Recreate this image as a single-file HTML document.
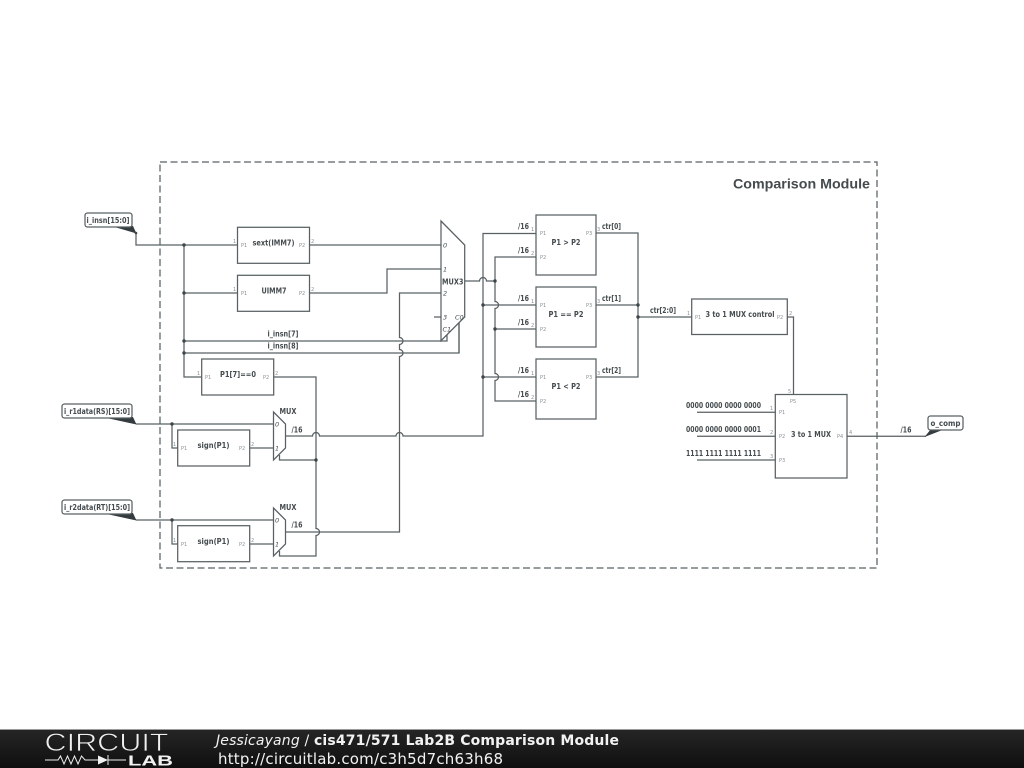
<!DOCTYPE html>
<html><head><meta charset="utf-8"><style>
html,body{margin:0;padding:0;background:#fff;width:1024px;height:768px;overflow:hidden}
svg{display:block}
text{font-family:"DejaVu Sans","Liberation Sans",sans-serif;fill:#454b4e}
.w{fill:none;stroke:#596063;stroke-width:1.25}
.b{fill:#fff;stroke:#596063;stroke-width:1.25}
.l{font-size:7.5px;font-weight:bold}
.p{font-size:5px;fill:#8a8f91}
.n{font-size:5px;fill:#8a8f91}
.m{font-size:6.500px;font-style:italic}
.f{fill:#fff;stroke:#596063;stroke-width:1.25}
.t{fill:#343c40;stroke:none}
.d{fill:#3d4549;stroke:none}
#dg{filter:blur(.3px)}
</style></head><body>
<svg width="1024" height="768" viewBox="0 0 1024 768" xmlns="http://www.w3.org/2000/svg">
<defs><linearGradient id="g" x1="0" y1="0" x2="0" y2="1"><stop offset="0" stop-color="#262626"/><stop offset="1" stop-color="#0f0f0f"/></linearGradient></defs>
<rect width="1024" height="768" fill="#fff"/>
<g id="dg">
<rect x="160" y="162" width="717" height="406" fill="none" stroke="#596063" stroke-width="1.25" stroke-dasharray="7 3.5"/>
<text x="870" y="188.500" text-anchor="end" textLength="137" lengthAdjust="spacingAndGlyphs" style="font-family:'Liberation Sans',sans-serif;font-size:14.200px;font-weight:bold">Comparison Module</text>

<!-- wires -->
<path class="w" d="M136 233V245H237.500M184 245V377H201.700M184 293H237.500"/>
<path class="w" d="M184 341H441M184 353H459V323"/>
<path class="w" d="M309.500 245H441M309.500 293H387V269H441"/>
<path class="w" d="M441 293H399.500V337.500a3.500 3.500 0 0 1 0 7V349.500a3.500 3.500 0 0 1 0 7V532H285.500"/>
<path class="w" d="M273.700 377H316V528.500a3.500 3.500 0 0 1 0 7V556H279.500V551M316 460H279.500V455"/>
<path class="w" d="M285.500 436H312.500a3.500 3.500 0 0 1 7 0H396a3.500 3.500 0 0 1 7 0H483V233.500H536"/>
<path class="w" d="M465 281H479.500a3.500 3.500 0 0 1 7 0H495M536 257H495V301.500a3.500 3.500 0 0 1 0 7V373.500a3.500 3.500 0 0 1 0 7V401H536M495 329H536M483 305H536M483 377H536"/>
<path class="w" d="M596 233H638V377H596M596 305H638M638 317H691.500M787.300 317H793.500V394.500"/>
<path class="w" d="M697 412.300H775.300M697 436.300H775.300M697 460H775.300M847 436.300H926"/>
<path class="w" d="M136 424H273.500M172 424V448H178M250 448H273.500M136 520H273.500M172 520V544H178M250 544H273.500"/>
<path class="w" d="M434 317H441"/>

<!-- junctions -->
<g class="d">
<circle cx="184" cy="245" r="1.700"/><circle cx="184" cy="293" r="1.700"/><circle cx="184" cy="341" r="1.700"/><circle cx="184" cy="353" r="1.700"/>
<circle cx="172" cy="424" r="1.700"/><circle cx="172" cy="520" r="1.700"/><circle cx="316" cy="460" r="1.700"/>
<circle cx="495" cy="281" r="1.700"/><circle cx="495" cy="329" r="1.700"/><circle cx="483" cy="305" r="1.700"/><circle cx="483" cy="377" r="1.700"/>
<circle cx="638" cy="305" r="1.700"/><circle cx="638" cy="317" r="1.700"/>
</g>

<!-- boxes -->
<rect class="b" x="237.500" y="227.300" width="72" height="36"/>
<rect class="b" x="237.500" y="275.300" width="72" height="36"/>
<rect class="b" x="201.700" y="359" width="72" height="36"/>
<rect class="b" x="177.700" y="430" width="72" height="36"/>
<rect class="b" x="177.700" y="525.700" width="72" height="36"/>
<rect class="b" x="536" y="215" width="60" height="60"/>
<rect class="b" x="536" y="287" width="60" height="60"/>
<rect class="b" x="536" y="359" width="60" height="60"/>
<rect class="b" x="691.700" y="299" width="95.600" height="35.500"/>
<rect class="b" x="775.300" y="394.500" width="71.700" height="83.500"/>

<!-- muxes -->
<path class="b" d="M441 221L464.700 245V317L441 340.700Z"/>
<path class="b" d="M273.500 412L285.500 424V448L273.500 460Z"/>
<path class="b" d="M273.500 508L285.500 520V544L273.500 556Z"/>
<path class="w" d="M441 341H447V335"/>
<path class="w" d="M459 353V323"/>

<!-- flags -->
<path class="t" d="M111 226H133L136.500 233.500Z"/>
<rect class="f" x="85" y="213" width="47" height="14" rx="2.500"/>
<circle class="d" cx="136" cy="233" r="1.300"/>
<path class="t" d="M102 417H133L136.500 424.500Z"/>
<rect class="f" x="62" y="404" width="70" height="14" rx="2.500"/>
<path class="t" d="M102 513H133L136.500 520.500Z"/>
<rect class="f" x="62" y="500" width="70" height="14" rx="2.500"/>
<path class="t" d="M924.500 437L931 429H945Z"/>
<rect class="f" x="928" y="416" width="35" height="14" rx="2.500"/>

<g>
<text class="l" x="86.500" y="223" textLength="43" lengthAdjust="spacingAndGlyphs">i_insn[15:0]</text>
<text class="l" x="64" y="414" textLength="66" lengthAdjust="spacingAndGlyphs">i_r1data(RS)[15:0]</text>
<text class="l" x="64" y="510" textLength="66" lengthAdjust="spacingAndGlyphs">i_r2data(RT)[15:0]</text>
<text class="l" x="930.500" y="426" textLength="30" lengthAdjust="spacingAndGlyphs">o_comp</text>

<!-- box labels -->
<text class="l" x="252.500" y="245.500" textLength="42" lengthAdjust="spacingAndGlyphs">sext(IMM7)</text>
<text class="l" x="261.500" y="293.500" textLength="25" lengthAdjust="spacingAndGlyphs">UIMM7</text>
<text class="l" x="220" y="377" textLength="36" lengthAdjust="spacingAndGlyphs">P1[7]==0</text>
<text class="l" x="197.500" y="448" textLength="32" lengthAdjust="spacingAndGlyphs">sign(P1)</text>
<text class="l" x="197.500" y="544" textLength="32" lengthAdjust="spacingAndGlyphs">sign(P1)</text>
<text class="l" x="551.500" y="245" textLength="29" lengthAdjust="spacingAndGlyphs">P1 &gt; P2</text>
<text class="l" x="548.500" y="317" textLength="35" lengthAdjust="spacingAndGlyphs">P1 == P2</text>
<text class="l" x="551.500" y="389" textLength="29" lengthAdjust="spacingAndGlyphs">P1 &lt; P2</text>
<text class="l" x="705.500" y="317" textLength="69" lengthAdjust="spacingAndGlyphs">3 to 1 MUX control</text>
<text class="l" x="791" y="437" textLength="40" lengthAdjust="spacingAndGlyphs">3 to 1 MUX</text>
<text class="l" x="442" y="284.500" textLength="21.500" lengthAdjust="spacingAndGlyphs">MUX3</text>
<text class="l" x="279.500" y="414" textLength="17" lengthAdjust="spacingAndGlyphs">MUX</text>
<text class="l" x="279.500" y="510" textLength="17" lengthAdjust="spacingAndGlyphs">MUX</text>

<!-- wire labels -->
<text class="l" x="267.500" y="336.500" textLength="31" lengthAdjust="spacingAndGlyphs">i_insn[7]</text>
<text class="l" x="267.500" y="348.500" textLength="31" lengthAdjust="spacingAndGlyphs">i_insn[8]</text>
<text class="l" x="291.500" y="432.500" textLength="11" lengthAdjust="spacingAndGlyphs">/16</text>
<text class="l" x="291.500" y="527.500" textLength="11" lengthAdjust="spacingAndGlyphs">/16</text>
<text class="l" x="518" y="229" textLength="11" lengthAdjust="spacingAndGlyphs">/16</text>
<text class="l" x="518" y="253" textLength="11" lengthAdjust="spacingAndGlyphs">/16</text>
<text class="l" x="518" y="301" textLength="11" lengthAdjust="spacingAndGlyphs">/16</text>
<text class="l" x="518" y="325" textLength="11" lengthAdjust="spacingAndGlyphs">/16</text>
<text class="l" x="518" y="373" textLength="11" lengthAdjust="spacingAndGlyphs">/16</text>
<text class="l" x="518" y="397" textLength="11" lengthAdjust="spacingAndGlyphs">/16</text>
<text class="l" x="602" y="229" textLength="19" lengthAdjust="spacingAndGlyphs">ctr[0]</text>
<text class="l" x="602" y="301" textLength="19" lengthAdjust="spacingAndGlyphs">ctr[1]</text>
<text class="l" x="602" y="373" textLength="19" lengthAdjust="spacingAndGlyphs">ctr[2]</text>
<text class="l" x="650" y="313" textLength="26" lengthAdjust="spacingAndGlyphs">ctr[2:0]</text>
<text class="l" x="686" y="408" textLength="75" lengthAdjust="spacingAndGlyphs">0000 0000 0000 0000</text>
<text class="l" x="686" y="432" textLength="75" lengthAdjust="spacingAndGlyphs">0000 0000 0000 0001</text>
<text class="l" x="686" y="456" textLength="75" lengthAdjust="spacingAndGlyphs">1111 1111 1111 1111</text>
<text class="l" x="900.500" y="432.500" textLength="11" lengthAdjust="spacingAndGlyphs">/16</text>
</g>

<!-- mux pin labels -->
<text class="m" x="443" y="247.500">0</text><text class="m" x="443" y="271.500">1</text><text class="m" x="443" y="295.500">2</text><text class="m" x="443" y="319.500">3</text>
<text class="m" x="455" y="319.500">C0</text><text class="m" x="442.500" y="331.500">C1</text>
<text class="m" x="275" y="426.500">0</text><text class="m" x="275" y="450.500">1</text>
<text class="m" x="275" y="522.500">0</text><text class="m" x="275" y="546.500">1</text>

<!-- port labels -->
<g>
<text class="p" x="241" y="247">P1</text><text class="p" x="299" y="247">P2</text>
<text class="p" x="241" y="295">P1</text><text class="p" x="299" y="295">P2</text>
<text class="p" x="205" y="379">P1</text><text class="p" x="263" y="379">P2</text>
<text class="p" x="181" y="450">P1</text><text class="p" x="239" y="450">P2</text>
<text class="p" x="181" y="546">P1</text><text class="p" x="239" y="546">P2</text>
<text class="p" x="540" y="235">P1</text><text class="p" x="586" y="235">P3</text><text class="p" x="540" y="259">P2</text>
<text class="p" x="540" y="307">P1</text><text class="p" x="586" y="307">P3</text><text class="p" x="540" y="331">P2</text>
<text class="p" x="540" y="379">P1</text><text class="p" x="586" y="379">P3</text><text class="p" x="540" y="403">P2</text>
<text class="p" x="695" y="319">P1</text><text class="p" x="777" y="319">P2</text>
<text class="p" x="779" y="414">P1</text><text class="p" x="779" y="438">P2</text><text class="p" x="779" y="462">P3</text>
<text class="p" x="837" y="438">P4</text><text class="p" x="790" y="403">P5</text>
</g>
<!-- pin numbers -->
<g>
<text class="n" x="233" y="243">1</text><text class="n" x="311" y="243">2</text>
<text class="n" x="233" y="291">1</text><text class="n" x="311" y="291">2</text>
<text class="n" x="197" y="375">1</text><text class="n" x="275" y="375">2</text>
<text class="n" x="173" y="446">1</text><text class="n" x="251" y="446">2</text>
<text class="n" x="173" y="542">1</text><text class="n" x="251" y="542">2</text>
<text class="n" x="531" y="231">1</text><text class="n" x="597" y="231">3</text><text class="n" x="531" y="255">2</text>
<text class="n" x="531" y="303">1</text><text class="n" x="597" y="303">3</text><text class="n" x="531" y="327">2</text>
<text class="n" x="531" y="375">1</text><text class="n" x="597" y="375">3</text><text class="n" x="531" y="399">2</text>
<text class="n" x="687" y="315">1</text><text class="n" x="789" y="315">2</text>
<text class="n" x="770" y="410">1</text><text class="n" x="770" y="434">2</text><text class="n" x="770" y="458">3</text>
<text class="n" x="849" y="434">4</text><text class="n" x="788" y="393">5</text>
</g>
</g>

<!-- footer -->
<rect x="0" y="729" width="1024" height="39" fill="url(#g)"/>
<rect x="0" y="729" width="1024" height="1" fill="#9a9a9a"/>
<text x="44.500" y="751" textLength="124" lengthAdjust="spacingAndGlyphs" style="font-family:'Liberation Sans',sans-serif;font-size:25px;fill:#f0f0f0;stroke:#1c1c1c;stroke-width:.7">CIRCUIT</text>
<path d="M45 760H58L60.500 756L64 764L67.500 756L71 764L74.500 756L78 764L81.500 756L85 760H98M108 755V765M108 760H126" fill="none" stroke="#eee" stroke-width="1"/>
<path d="M98 755.500V764.500L108 760Z" fill="#f2f2f2"/>
<text x="128" y="765.500" textLength="45" lengthAdjust="spacingAndGlyphs" style="font-family:'Liberation Sans',sans-serif;font-size:15px;font-weight:bold;fill:#f2f2f2">LAB</text>
<text x="216" y="745" style="font-size:14px;fill:#f2f2f2" textLength="403"><tspan font-style="italic">Jessicayang</tspan> / <tspan font-weight="bold">cis471/571 Lab2B Comparison Module</tspan></text>
<text x="218" y="764" style="font-size:15px;fill:#f2f2f2" textLength="285">http://circuitlab.com/c3h5d7ch63h68</text>
</svg>
</body></html>
